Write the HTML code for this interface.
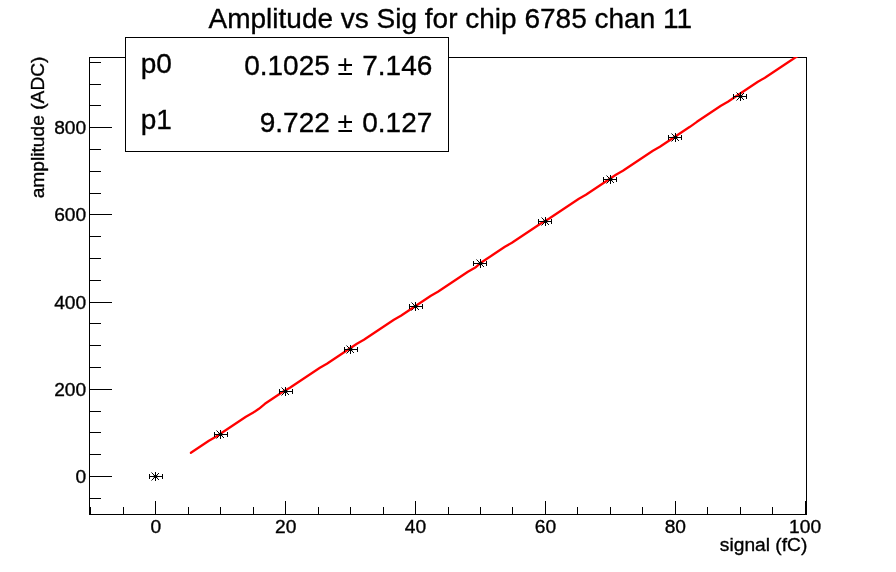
<!DOCTYPE html>
<html><head><meta charset="utf-8"><title>Amplitude vs Sig for chip 6785 chan 11</title>
<style>
html,body{margin:0;padding:0;background:#fff;}
body{width:896px;height:572px;overflow:hidden;}
svg{display:block;}
text{font-family:"Liberation Sans",sans-serif;fill:#000;stroke:#000;stroke-width:0.35px;}
.ax{stroke:#000;stroke-width:1;shape-rendering:crispEdges;fill:none;}
.mk{stroke:#000;stroke-width:1;fill:#000;}
</style></head><body>
<svg width="896" height="572" viewBox="0 0 896 572">
<rect x="0" y="0" width="896" height="572" fill="#fff"/>

<rect class="ax" x="89.5" y="57.5" width="717" height="457"/>
<clipPath id="c"><rect x="89" y="57" width="718" height="458"/></clipPath>
<path class="ax" d="M90 498.5h11M90 476.5h22M90 454.5h11M90 432.5h11M90 411.5h11M90 389.5h22M90 367.5h11M90 345.5h11M90 323.5h11M90 302.5h22M90 280.5h11M90 258.5h11M90 236.5h11M90 214.5h22M90 193.5h11M90 171.5h11M90 149.5h11M90 127.5h22M90 105.5h11M90 84.5h11M90 62.5h11M90.5 515v-8M123.5 515v-8M155.5 515v-14M188.5 515v-8M220.5 515v-8M253.5 515v-8M285.5 515v-14M318.5 515v-8M350.5 515v-8M383.5 515v-8M415.5 515v-14M448.5 515v-8M480.5 515v-8M512.5 515v-8M545.5 515v-14M577.5 515v-8M610.5 515v-8M642.5 515v-8M675.5 515v-14M707.5 515v-8M740.5 515v-8M772.5 515v-8M805.5 515v-14"/>
<path class="mk" d="M151.5 480.5L159.0 473.0M216.5 438.5L224.0 431.0M281.5 395.5L289.0 388.0M346.5 353.5L354.0 346.0M411.5 310.5L419.0 303.0M476.5 267.5L484.0 260.0M541.5 225.5L549.0 218.0M606.5 183.5L614.0 176.0M671.5 141.5L679.0 134.0M736.5 100.5L744.0 93.0"/>
<g clip-path="url(#c)"><polyline points="191,453 197,449 203,445 209,441 216,437 222,433 228,429 234,425 240,421 246,417 253,413 259,409 265,404 271,400 277,396 283,392 290,388 296,384 302,380 308,376 314,372 320,368 327,364 333,360 339,356 345,352 351,348 357,344 364,340 370,336 376,332 382,328 388,324 394,320 401,316 407,312 413,308 419,304 425,300 431,296 438,292 444,288 450,284 456,280 462,276 468,272 475,268 481,263 487,259 493,255 499,251 505,247 512,243 518,239 524,235 530,231 536,227 542,223 549,219 555,215 561,211 567,207 573,203 579,199 586,195 592,191 598,187 604,183 610,179 616,175 623,171 629,167 635,163 641,159 647,155 653,151 660,147 666,143 672,139 678,135 684,131 690,127 697,122 703,118 709,114 715,110 721,106 728,102 734,98 740,94 746,90 752,86 758,82 765,78 771,74 777,70 783,66 789,62 795,58 802,54" fill="none" stroke="#ff0000" stroke-width="2.25" stroke-linecap="round" stroke-linejoin="round" transform="translate(-0.1 -0.2)"/></g>
<path class="mk" d="M155.5 472.0V481.0M151.5 472.5L159.0 480.0M149.5 476.5H162.5M149.5 474.0V479.0M162.5 474.0V479.0M154.0 475.5h3v2h-3zM220.5 430.0V439.0M216.5 430.5L224.0 438.0M214.5 434.5H227.5M214.5 432.0V437.0M227.5 432.0V437.0M219.0 433.5h3v2h-3zM285.5 387.0V396.0M281.5 387.5L289.0 395.0M279.5 391.5H292.5M279.5 389.0V394.0M292.5 389.0V394.0M284.0 390.5h3v2h-3zM350.5 345.0V354.0M346.5 345.5L354.0 353.0M344.5 349.5H357.5M344.5 347.0V352.0M357.5 347.0V352.0M349.0 348.5h3v2h-3zM415.5 302.0V311.0M411.5 302.5L419.0 310.0M409.5 306.5H422.5M409.5 304.0V309.0M422.5 304.0V309.0M414.0 305.5h3v2h-3zM480.5 259.0V268.0M476.5 259.5L484.0 267.0M473.5 263.5H486.5M473.5 261.0V266.0M486.5 261.0V266.0M479.0 262.5h3v2h-3zM545.5 217.0V226.0M541.5 217.5L549.0 225.0M538.5 221.5H551.5M538.5 219.0V224.0M551.5 219.0V224.0M544.0 220.5h3v2h-3zM610.5 175.0V184.0M606.5 175.5L614.0 183.0M603.5 179.5H616.5M603.5 177.0V182.0M616.5 177.0V182.0M609.0 178.5h3v2h-3zM675.5 133.0V142.0M671.5 133.5L679.0 141.0M668.5 137.5H681.5M668.5 135.0V140.0M681.5 135.0V140.0M674.0 136.5h3v2h-3zM740.5 92.0V101.0M736.5 92.5L744.0 100.0M733.5 96.5H746.5M733.5 94.0V99.0M746.5 94.0V99.0M739.0 95.5h3v2h-3z"/>
<rect class="ax" x="125.5" y="37.5" width="323" height="114" fill="#fff" style="fill:#fff"/>
<text x="140.8" y="72.5" font-size="28">p0</text>
<text x="140.8" y="129" font-size="28">p1</text>
<text y="75" font-size="28"><tspan x="329.8" text-anchor="end">0.1025</tspan><tspan x="345.2" text-anchor="middle" stroke="none"> ± </tspan><tspan x="432.3" text-anchor="end">7.146</tspan></text>
<text y="131.7" font-size="28"><tspan x="329.8" text-anchor="end">9.722</tspan><tspan x="345.2" text-anchor="middle" stroke="none"> ± </tspan><tspan x="432.3" text-anchor="end">0.127</tspan></text>
<text x="450.3" y="27.6" font-size="28" text-anchor="middle">Amplitude vs Sig for chip 6785 chan 11</text>
<text x="86.2" y="483.4" font-size="19.2" text-anchor="end">0</text>
<text x="86.2" y="396.4" font-size="19.2" text-anchor="end">200</text>
<text x="86.2" y="309.4" font-size="19.2" text-anchor="end">400</text>
<text x="86.2" y="221.4" font-size="19.2" text-anchor="end">600</text>
<text x="86.2" y="134.4" font-size="19.2" text-anchor="end">800</text>
<text x="155.8" y="533" font-size="19.2" text-anchor="middle">0</text>
<text x="285.7" y="533" font-size="19.2" text-anchor="middle">20</text>
<text x="415.5" y="533" font-size="19.2" text-anchor="middle">40</text>
<text x="545.4" y="533" font-size="19.2" text-anchor="middle">60</text>
<text x="675.3" y="533" font-size="19.2" text-anchor="middle">80</text>
<text x="805.1" y="533" font-size="19.2" text-anchor="middle">100</text>
<text x="807.3" y="551.3" font-size="19.2" text-anchor="end">signal (fC)</text>
<text transform="translate(43.8 56.5) rotate(-90)" font-size="19.2" text-anchor="end">amplitude (ADC)</text>
</svg></body></html>
